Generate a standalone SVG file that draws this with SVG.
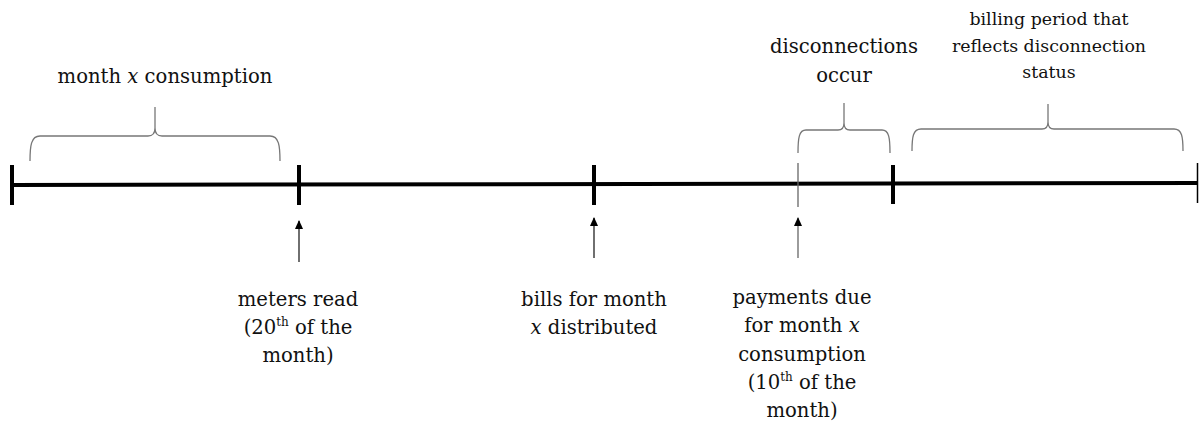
<svg xmlns="http://www.w3.org/2000/svg" width="1199" height="428" viewBox="0 0 1199 428">
<style>
text{font-family:"DejaVu Serif","Liberation Serif",serif;font-size:19.6px;fill:#111;text-anchor:middle}
.s{font-size:17.4px}
.sup{font-size:12px}
.i{font-style:italic}
.axis{stroke:#000;stroke-width:4;fill:none}
.tick{stroke:#000;stroke-width:4}
.thin{stroke:#666;stroke-width:1.3}
.brace{stroke:#777;stroke-width:1.3;fill:none}
.arr{stroke:#222;stroke-width:1.3;fill:none}
</style>
<defs>
<marker id="ah" markerWidth="9" markerHeight="8" refX="8" refY="4" orient="auto" markerUnits="userSpaceOnUse" viewBox="0 0 9 8">
<path d="M0,0 L9,4 L0,8 Z" fill="#000"/>
</marker>
</defs>
<rect width="1199" height="428" fill="#fff"/>
<g id="connectors">
<line class="axis" x1="12" y1="185" x2="1198" y2="183"/>
<line class="tick" x1="12" y1="165" x2="12" y2="205"/>
<line class="tick" x1="299" y1="165" x2="299" y2="205"/>
<line class="tick" x1="594" y1="165" x2="594" y2="205"/>
<line class="tick" x1="893" y1="165" x2="893" y2="204"/>
<line class="thin" x1="798" y1="163" x2="798" y2="207"/>
<line x1="1197.5" y1="163" x2="1197.5" y2="203" stroke="#000" stroke-width="1.5"/>
<line class="arr" x1="299" y1="262" x2="299" y2="221" marker-end="url(#ah)"/>
<line class="arr" x1="594" y1="258" x2="594" y2="218" marker-end="url(#ah)"/>
<line class="thin" x1="798" y1="258" x2="798" y2="218" marker-end="url(#ah)"/>
</g>
<g id="brace-consumption">
<path class="brace" d="M30,161 C30,146 31,136 40,136 L148,136 Q155,136 155,128 L155,107 M155,128 Q155,136 162,136 L270,136 C279,136 280,146 280,161"/>
<text x="165" y="83">month <tspan class="i">x</tspan> consumption</text>
</g>
<g id="brace-disconnections">
<path class="brace" d="M798,153 C798,138 799,130 806,130 L838,130 Q844,130 844,123 L844,103 M844,123 Q844,130 850,130 L882,130 C889,130 890,138 890,153"/>
<text x="844" y="53">disconnections</text>
<text x="844" y="82">occur</text>
</g>
<g id="brace-billing">
<path class="brace" d="M912,151 C912,137 913,129 921,129 L1042,129 Q1048,129 1048,122 L1048,104 M1048,122 Q1048,129 1054,129 L1174,129 C1182,129 1183,137 1183,151"/>
<text class="s" x="1049" y="25">billing period that</text>
<text class="s" x="1049" y="52">reflects disconnection</text>
<text class="s" x="1049" y="78">status</text>
</g>
<g id="meters-read">
<text x="298" y="306">meters read</text>
<text x="298" y="334">(20<tspan class="sup" dy="-8">th</tspan><tspan dy="8"> of the</tspan></text>
<text x="298" y="362">month)</text>
</g>
<g id="bills-distributed">
<text x="594" y="306">bills for month</text>
<text x="594" y="334"><tspan class="i">x</tspan> distributed</text>
</g>
<g id="payments-due">
<text x="802" y="304">payments due</text>
<text x="802" y="332">for month <tspan class="i">x</tspan></text>
<text x="802" y="361">consumption</text>
<text x="802" y="389">(10<tspan class="sup" dy="-8">th</tspan><tspan dy="8"> of the</tspan></text>
<text x="802" y="417">month)</text>
</g>
</svg>
